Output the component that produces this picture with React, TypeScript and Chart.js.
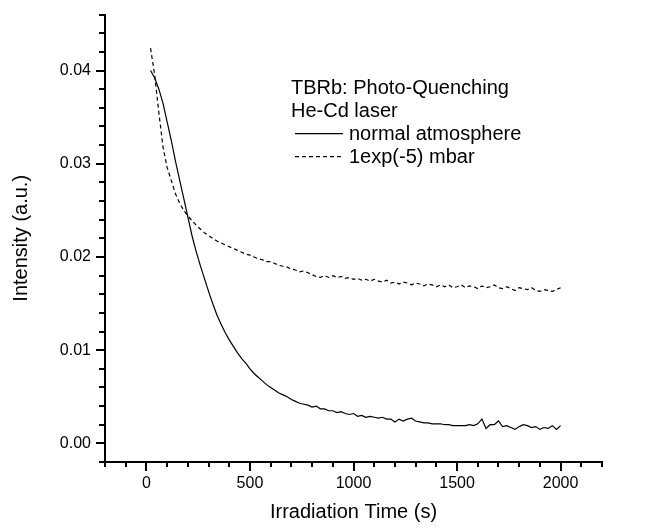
import { useEffect, useRef } from 'react';
import { Chart, registerables } from 'chart.js';

Chart.register(...registerables);

// ---- data ----
const timeS = [
  20, 40, 60, 80, 100, 120, 140, 160, 180, 200,
  220, 240, 260, 280, 300, 320, 340, 360, 380, 400,
  420, 440, 460, 480, 500, 520, 540, 560, 580, 600,
  620, 640, 660, 680, 700, 720, 740, 760, 780, 800,
  820, 840, 860, 880, 900, 920, 940, 960, 980, 1000,
  1020, 1040, 1060, 1080, 1100, 1120, 1140, 1160, 1180, 1200,
  1220, 1240, 1260, 1280, 1300, 1320, 1340, 1360, 1380, 1400,
  1420, 1440, 1460, 1480, 1500, 1520, 1540, 1560, 1580, 1600,
  1620, 1640, 1660, 1680, 1700, 1720, 1740, 1760, 1780, 1800,
  1820, 1840, 1860, 1880, 1900, 1920, 1940, 1960, 1980, 2000,
];

const normalAtmosphere = [
  0.0400, 0.0392, 0.0380, 0.0365, 0.0345, 0.0325, 0.0303, 0.0283, 0.0263, 0.0243,
  0.0223, 0.0206, 0.0191, 0.0177, 0.0163, 0.0150, 0.0138, 0.0128, 0.0119, 0.0111,
  0.0104, 0.0097, 0.0091, 0.0086, 0.0080, 0.0075, 0.0071, 0.0067, 0.0063, 0.0060,
  0.0057, 0.0054, 0.0052, 0.0050, 0.0047, 0.0045, 0.0043, 0.0042, 0.0041, 0.0039,
  0.0040, 0.0037, 0.0037, 0.0035, 0.0035, 0.0033, 0.0034, 0.0032, 0.0031, 0.0032,
  0.0029, 0.0030, 0.0028, 0.0029, 0.0028, 0.0027, 0.0028, 0.0026, 0.0026, 0.0023,
  0.0026, 0.0024, 0.0026, 0.0027, 0.0024, 0.0023, 0.0022, 0.0022, 0.0021, 0.0021,
  0.0021, 0.0020, 0.0020, 0.0019, 0.0019, 0.0019, 0.0019, 0.0020, 0.0019, 0.0021,
  0.0026, 0.0016, 0.0020, 0.0020, 0.0024, 0.0018, 0.0019, 0.0017, 0.0015, 0.0018,
  0.0020, 0.0019, 0.0017, 0.0018, 0.0015, 0.0017, 0.0016, 0.0019, 0.0015, 0.0019,
];

const vacuum = [
  0.0424, 0.0395, 0.0355, 0.0318, 0.0296, 0.0282, 0.0268, 0.0258, 0.0250, 0.0244,
  0.0239, 0.0234, 0.0230, 0.0226, 0.0223, 0.0220, 0.0217, 0.0215, 0.0213, 0.0211,
  0.0209, 0.0207, 0.0205, 0.0203, 0.0202, 0.0200, 0.0198, 0.0197, 0.0195, 0.0195,
  0.0193, 0.0191, 0.0190, 0.0189, 0.0187, 0.0186, 0.0184, 0.0185, 0.0183, 0.0181,
  0.0179, 0.0178, 0.0180, 0.0178, 0.0180, 0.0178, 0.0179, 0.0177, 0.0178, 0.0176,
  0.0177, 0.0175, 0.0176, 0.0174, 0.0176, 0.0174, 0.0173, 0.0175, 0.0172, 0.0173,
  0.0171, 0.0173, 0.0172, 0.0170, 0.0172, 0.0171, 0.0169, 0.0171, 0.0170, 0.0168,
  0.0170, 0.0168, 0.0170, 0.0167, 0.0168, 0.0170, 0.0167, 0.0169, 0.0168, 0.0166,
  0.0169, 0.0167, 0.0168, 0.0170, 0.0167, 0.0166, 0.0168, 0.0166, 0.0164, 0.0167,
  0.0166, 0.0165, 0.0167, 0.0164, 0.0163, 0.0165, 0.0164, 0.0163, 0.0165, 0.0167,
];

const seriesLabels = ['normal atmosphere', '1exp(-5) mbar'];
const legendTitleLines = ['TBRb: Photo-Quenching', 'He-Cd laser'];
const xTitle = 'Irradiation Time (s)';
const yTitle = 'Intensity (a.u.)';

const xMajorTicks = [0, 500, 1000, 1500, 2000];
const yMajorTicks = [0, 0.01, 0.02, 0.03, 0.04];
const xMin = -200, xMax = 2200, xMinor = 100;
const yMin = -0.002, yMax = 0.046, yMinor = 0.002;

const FONT = "'Liberation Sans', Arial, Helvetica, sans-serif";

const minorTicksPlugin = {
  id: 'minorTicks',
  afterDraw(chart: any) {
    const { ctx } = chart;
    const x = chart.scales.x;
    const y = chart.scales.y;
    ctx.save();
    ctx.strokeStyle = '#000';
    ctx.lineWidth = 2;
    ctx.beginPath();
    const nx = Math.round((xMax - xMin) / xMinor);
    for (let i = 0; i <= nx; i++) {
      const v = xMin + i * xMinor;
      if (xMajorTicks.some((m) => Math.abs(m - v) < 1e-9)) continue;
      const px = Math.round(x.getPixelForValue(v));
      ctx.moveTo(px, y.bottom);
      ctx.lineTo(px, y.bottom + 5);
    }
    const ny = Math.round((yMax - yMin) / yMinor);
    for (let i = 0; i <= ny; i++) {
      const v = yMin + i * yMinor;
      if (yMajorTicks.some((m) => Math.abs(m - v) < 1e-9)) continue;
      const py = Math.round(y.getPixelForValue(v));
      ctx.moveTo(x.left, py);
      ctx.lineTo(x.left - 6, py);
    }
    ctx.stroke();
    ctx.restore();
  },
};

const legendPlugin = {
  id: 'textLegend',
  afterDraw(chart: any) {
    const { ctx } = chart;
    const area = chart.chartArea;
    const left = area.left + 186;
    const baseTop = area.top + 79;
    const lineH = 23;
    ctx.save();
    ctx.fillStyle = '#000';
    ctx.font = `20px ${FONT}`;
    ctx.textBaseline = 'alphabetic';
    ctx.textAlign = 'left';
    legendTitleLines.forEach((t, i) => {
      ctx.fillText(t, left, baseTop + i * lineH);
    });
    chart.data.datasets.forEach((ds: any, i: number) => {
      const yb = baseTop + (legendTitleLines.length + i) * lineH;
      const ly = yb - 6;
      ctx.beginPath();
      ctx.strokeStyle = ds.borderColor;
      ctx.lineWidth = ds.borderWidth;
      ctx.setLineDash(ds.borderDash || []);
      ctx.moveTo(left + 4, ly);
      ctx.lineTo(left + 52, ly);
      ctx.stroke();
      ctx.setLineDash([]);
      ctx.fillText(ds.label, left + 58, yb);
    });
    ctx.restore();
  },
};

export default function App() {
  const ref = useRef<HTMLCanvasElement | null>(null);

  useEffect(() => {
    document.body.style.margin = '0';
    const canvas = ref.current;
    if (!canvas) return;
    const chart = new Chart(canvas, {
      type: 'line',
      data: {
        datasets: [
          {
            label: seriesLabels[0],
            data: timeS.map((t, i) => ({ x: t, y: normalAtmosphere[i] })),
            borderColor: '#000',
            borderWidth: 1.2,
            pointRadius: 0,
            tension: 0,
            fill: false,
          },
          {
            label: seriesLabels[1],
            data: timeS.map((t, i) => ({ x: t, y: vacuum[i] })),
            borderColor: '#000',
            borderWidth: 1.2,
            borderDash: [4, 3],
            pointRadius: 0,
            tension: 0,
            fill: false,
          },
        ],
      },
      options: {
        responsive: false,
        animation: false,
        devicePixelRatio: 1,
        layout: { padding: { top: 14, right: 58, left: 0, bottom: 0 } },
        plugins: {
          legend: { display: false },
          tooltip: { enabled: false },
        },
        scales: {
          x: {
            type: 'linear',
            min: xMin,
            max: xMax,
            afterFit(scale: any) {
              scale.height = 69;
            },
            afterBuildTicks(scale: any) {
              scale.ticks = xMajorTicks.map((v) => ({ value: v }));
            },
            ticks: {
              color: '#000',
              padding: 3,
              maxRotation: 0,
              autoSkip: false,
              font: { family: FONT, size: 16 },
              callback: (v: any) => String(v),
            },
            grid: {
              drawOnChartArea: false,
              drawTicks: true,
              tickLength: 9,
              color: '#000',
              lineWidth: 2,
            },
            border: { display: true, color: '#000', width: 2 },
            title: {
              display: true,
              text: xTitle,
              color: '#000',
              font: { family: FONT, size: 20 },
              padding: { top: 0, bottom: 7 },
            },
          },
          y: {
            type: 'linear',
            min: yMin,
            max: yMax,
            afterFit(scale: any) {
              scale.width = 105;
            },
            afterBuildTicks(scale: any) {
              scale.ticks = yMajorTicks.map((v) => ({ value: v }));
            },
            ticks: {
              color: '#000',
              padding: 5,
              autoSkip: false,
              font: { family: FONT, size: 16 },
              callback: (v: any) => Number(v).toFixed(2),
            },
            grid: {
              drawOnChartArea: false,
              drawTicks: true,
              tickLength: 9,
              color: '#000',
              lineWidth: 2,
            },
            border: { display: true, color: '#000', width: 2 },
            title: {
              display: true,
              text: yTitle,
              color: '#000',
              font: { family: FONT, size: 20 },
              padding: { top: 9, bottom: 0 },
            },
          },
        },
      },
      plugins: [minorTicksPlugin, legendPlugin],
    });
    return () => chart.destroy();
  }, []);

  return (
    <div style={{ width: 660, height: 531 }}>
      <canvas ref={ref} width={660} height={531} style={{ display: 'block' }} />
    </div>
  );
}
